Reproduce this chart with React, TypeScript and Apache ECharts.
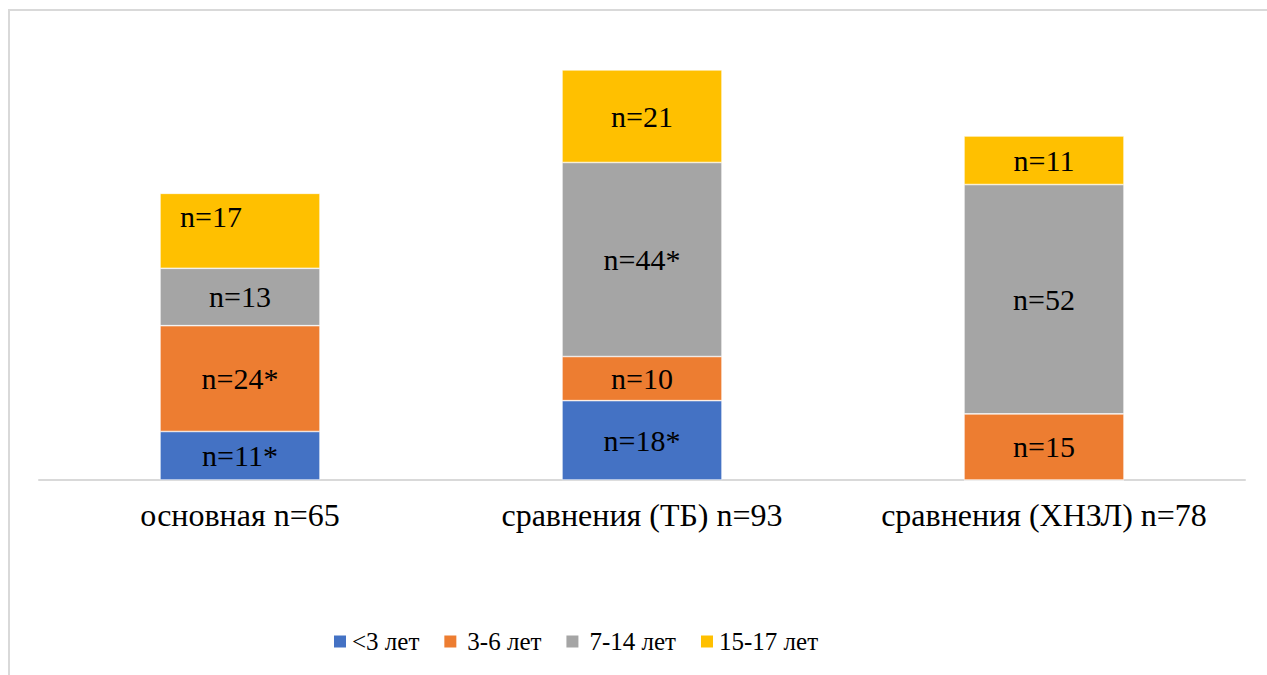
import React, { useEffect, useRef } from "react";
import * as echarts from "echarts";

// Groups and age bands (counts of patients)
const categories = ["основная n=65", "сравнения (ТБ) n=93", "сравнения (ХНЗЛ) n=78"];
const ageBands = ["<3 лет", "3-6 лет", "7-14 лет", "15-17 лет"];

const under3 = [11, 18, 0];
const age3to6 = [24, 10, 15];
const age7to14 = [13, 44, 52];
const age15to17 = [17, 21, 11];

// Statistically significant differences, marked with an asterisk
const under3Marked = [true, true, false];
const age3to6Marked = [true, false, false];
const age7to14Marked = [false, true, false];
const age15to17Marked = [false, false, false];

const colors = ["#4472C4", "#ED7D31", "#A5A5A5", "#FFC000"];
const FONT = "Liberation Serif";

export default function App() {
  const ref = useRef<HTMLDivElement>(null);

  useEffect(() => {
    if (!ref.current) return;
    const chart = echarts.init(ref.current, null, { renderer: "svg" });

    const seriesValues = [under3, age3to6, age7to14, age15to17];
    const seriesMarks = [under3Marked, age3to6Marked, age7to14Marked, age15to17Marked];

    const series = ageBands.map((name, si) => ({
      name,
      type: "bar",
      stack: "total",
      barWidth: 160,
      itemStyle: { color: colors[si], borderColor: "#ffffff", borderWidth: 0.6 },
      label: {
        show: true,
        position: "inside",
        color: "#000",
        fontFamily: FONT,
        fontSize: 30,
        formatter: (p: any) => {
          const v = p.value as number;
          if (!v) return "";
          return `n=${v}${seriesMarks[si][p.dataIndex] ? "*" : ""}`;
        },
      },
      data: seriesValues[si].map((v, ci) =>
        si === 3 && ci === 0 ? { value: v, label: { offset: [-29, -14] } } : v
      ),
    }));

    // middle legend entries sit a little further from their swatches
    const legendData = ageBands.map((name, i) =>
      i === 1 || i === 2 ? { name, textStyle: { padding: [0, 0, 0, 5] } } : { name }
    );

    chart.setOption({
      animation: false,
      backgroundColor: "#ffffff",
      color: colors,
      grid: { left: 39, right: 22, top: 39, bottom: 195, containLabel: false },
      xAxis: {
        type: "category",
        data: categories,
        axisLine: { show: true, lineStyle: { color: "#d9d9d9", width: 2 } },
        axisTick: { show: false },
        axisLabel: {
          color: "#000",
          fontFamily: FONT,
          fontSize: 32,
          margin: 19,
          interval: 0,
        },
      },
      yAxis: {
        type: "value",
        min: 0,
        max: 100,
        show: false,
        splitLine: { show: false },
      },
      legend: {
        data: legendData,
        left: 327,
        top: 624,
        itemWidth: 14,
        itemHeight: 14,
        itemGap: 23,
        icon: "rect",
        textStyle: { color: "#000", fontFamily: FONT, fontSize: 25 },
      },
      graphic: [
        {
          type: "rect",
          shape: { x: 9, y: 10, width: 1300, height: 700 },
          style: { fill: "none", stroke: "#d9d9d9", lineWidth: 2 },
          silent: true,
        },
      ],
      series,
    });

    return () => chart.dispose();
  }, []);

  return (
    <div
      ref={ref}
      style={{ position: "absolute", left: 0, top: 0, width: 1267, height: 675 }}
    />
  );
}
